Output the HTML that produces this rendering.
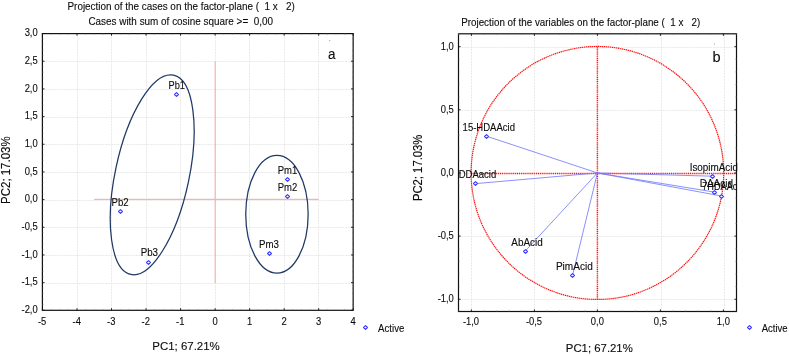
<!DOCTYPE html>
<html><head><meta charset="utf-8"><title>PCA projection</title>
<style>
html,body{margin:0;padding:0;background:#fff;}
body{width:789px;height:356px;overflow:hidden;}
svg{display:block;will-change:transform;}
svg text{font-family:"Liberation Sans", sans-serif;fill:#0c0c0c;stroke:#0c0c0c;stroke-width:0.12px;white-space:pre;}
</style></head><body>
<svg width="789" height="356" viewBox="0 0 789 356">
<rect width="789" height="356" fill="#fff"/>
<g id="left">
<line x1="77.5" y1="33.6" x2="77.5" y2="310.3" stroke="#e8e8e8" stroke-width="1" stroke-dasharray="2 1"/>
<line x1="111.5" y1="33.6" x2="111.5" y2="310.3" stroke="#e8e8e8" stroke-width="1" stroke-dasharray="2 1"/>
<line x1="146.5" y1="33.6" x2="146.5" y2="310.3" stroke="#e8e8e8" stroke-width="1" stroke-dasharray="2 1"/>
<line x1="180.5" y1="33.6" x2="180.5" y2="310.3" stroke="#e8e8e8" stroke-width="1" stroke-dasharray="2 1"/>
<line x1="215.5" y1="33.6" x2="215.5" y2="310.3" stroke="#e8e8e8" stroke-width="1" stroke-dasharray="2 1"/>
<line x1="249.5" y1="33.6" x2="249.5" y2="310.3" stroke="#e8e8e8" stroke-width="1" stroke-dasharray="2 1"/>
<line x1="284.5" y1="33.6" x2="284.5" y2="310.3" stroke="#e8e8e8" stroke-width="1" stroke-dasharray="2 1"/>
<line x1="318.5" y1="33.6" x2="318.5" y2="310.3" stroke="#e8e8e8" stroke-width="1" stroke-dasharray="2 1"/>
<line x1="42.4" y1="283.5" x2="353.15" y2="283.5" stroke="#e8e8e8" stroke-width="1" stroke-dasharray="2 1"/>
<line x1="42.4" y1="255.5" x2="353.15" y2="255.5" stroke="#e8e8e8" stroke-width="1" stroke-dasharray="2 1"/>
<line x1="42.4" y1="227.5" x2="353.15" y2="227.5" stroke="#e8e8e8" stroke-width="1" stroke-dasharray="2 1"/>
<line x1="42.4" y1="200.5" x2="353.15" y2="200.5" stroke="#e8e8e8" stroke-width="1" stroke-dasharray="2 1"/>
<line x1="42.4" y1="172.5" x2="353.15" y2="172.5" stroke="#e8e8e8" stroke-width="1" stroke-dasharray="2 1"/>
<line x1="42.4" y1="144.5" x2="353.15" y2="144.5" stroke="#e8e8e8" stroke-width="1" stroke-dasharray="2 1"/>
<line x1="42.4" y1="117.5" x2="353.15" y2="117.5" stroke="#e8e8e8" stroke-width="1" stroke-dasharray="2 1"/>
<line x1="42.4" y1="89.5" x2="353.15" y2="89.5" stroke="#e8e8e8" stroke-width="1" stroke-dasharray="2 1"/>
<line x1="42.4" y1="61.5" x2="353.15" y2="61.5" stroke="#e8e8e8" stroke-width="1" stroke-dasharray="2 1"/>
<line x1="215.2" y1="61.22" x2="215.2" y2="283.12" stroke="#f5b3b3" stroke-width="1.2"/>
<line x1="94.24" y1="199.4" x2="318.69" y2="199.4" stroke="#f5b3b3" stroke-width="1.15"/>
<ellipse cx="152.2" cy="174.8" rx="36.9" ry="101.9" transform="rotate(12.1 152.2 174.8)" fill="none" stroke="#1f3864" stroke-width="1.25"/>
<ellipse cx="276.95" cy="214.25" rx="31.2" ry="58.9" fill="none" stroke="#1f3864" stroke-width="1.25"/>
<rect x="42.4" y="33.6" width="310.75" height="276.70" fill="none" stroke="#111" stroke-width="1.2"/>
<line x1="42.45" y1="310.3" x2="42.45" y2="308.2" stroke="#111" stroke-width="0.9"/>
<line x1="42.45" y1="33.6" x2="42.45" y2="35.7" stroke="#111" stroke-width="0.9"/>
<line x1="51.08" y1="310.3" x2="51.08" y2="309.2" stroke="#777" stroke-width="0.6"/>
<line x1="51.08" y1="33.6" x2="51.08" y2="34.7" stroke="#777" stroke-width="0.6"/>
<line x1="59.72" y1="310.3" x2="59.72" y2="309.2" stroke="#777" stroke-width="0.6"/>
<line x1="59.72" y1="33.6" x2="59.72" y2="34.7" stroke="#777" stroke-width="0.6"/>
<line x1="68.35" y1="310.3" x2="68.35" y2="309.2" stroke="#777" stroke-width="0.6"/>
<line x1="68.35" y1="33.6" x2="68.35" y2="34.7" stroke="#777" stroke-width="0.6"/>
<line x1="76.98" y1="310.3" x2="76.98" y2="308.2" stroke="#111" stroke-width="0.9"/>
<line x1="76.98" y1="33.6" x2="76.98" y2="35.7" stroke="#111" stroke-width="0.9"/>
<line x1="85.61" y1="310.3" x2="85.61" y2="309.2" stroke="#777" stroke-width="0.6"/>
<line x1="85.61" y1="33.6" x2="85.61" y2="34.7" stroke="#777" stroke-width="0.6"/>
<line x1="94.24" y1="310.3" x2="94.24" y2="309.2" stroke="#777" stroke-width="0.6"/>
<line x1="94.24" y1="33.6" x2="94.24" y2="34.7" stroke="#777" stroke-width="0.6"/>
<line x1="102.88" y1="310.3" x2="102.88" y2="309.2" stroke="#777" stroke-width="0.6"/>
<line x1="102.88" y1="33.6" x2="102.88" y2="34.7" stroke="#777" stroke-width="0.6"/>
<line x1="111.51" y1="310.3" x2="111.51" y2="308.2" stroke="#111" stroke-width="0.9"/>
<line x1="111.51" y1="33.6" x2="111.51" y2="35.7" stroke="#111" stroke-width="0.9"/>
<line x1="120.14" y1="310.3" x2="120.14" y2="309.2" stroke="#777" stroke-width="0.6"/>
<line x1="120.14" y1="33.6" x2="120.14" y2="34.7" stroke="#777" stroke-width="0.6"/>
<line x1="128.77" y1="310.3" x2="128.77" y2="309.2" stroke="#777" stroke-width="0.6"/>
<line x1="128.77" y1="33.6" x2="128.77" y2="34.7" stroke="#777" stroke-width="0.6"/>
<line x1="137.41" y1="310.3" x2="137.41" y2="309.2" stroke="#777" stroke-width="0.6"/>
<line x1="137.41" y1="33.6" x2="137.41" y2="34.7" stroke="#777" stroke-width="0.6"/>
<line x1="146.04" y1="310.3" x2="146.04" y2="308.2" stroke="#111" stroke-width="0.9"/>
<line x1="146.04" y1="33.6" x2="146.04" y2="35.7" stroke="#111" stroke-width="0.9"/>
<line x1="154.67" y1="310.3" x2="154.67" y2="309.2" stroke="#777" stroke-width="0.6"/>
<line x1="154.67" y1="33.6" x2="154.67" y2="34.7" stroke="#777" stroke-width="0.6"/>
<line x1="163.31" y1="310.3" x2="163.31" y2="309.2" stroke="#777" stroke-width="0.6"/>
<line x1="163.31" y1="33.6" x2="163.31" y2="34.7" stroke="#777" stroke-width="0.6"/>
<line x1="171.94" y1="310.3" x2="171.94" y2="309.2" stroke="#777" stroke-width="0.6"/>
<line x1="171.94" y1="33.6" x2="171.94" y2="34.7" stroke="#777" stroke-width="0.6"/>
<line x1="180.57" y1="310.3" x2="180.57" y2="308.2" stroke="#111" stroke-width="0.9"/>
<line x1="180.57" y1="33.6" x2="180.57" y2="35.7" stroke="#111" stroke-width="0.9"/>
<line x1="189.20" y1="310.3" x2="189.20" y2="309.2" stroke="#777" stroke-width="0.6"/>
<line x1="189.20" y1="33.6" x2="189.20" y2="34.7" stroke="#777" stroke-width="0.6"/>
<line x1="197.83" y1="310.3" x2="197.83" y2="309.2" stroke="#777" stroke-width="0.6"/>
<line x1="197.83" y1="33.6" x2="197.83" y2="34.7" stroke="#777" stroke-width="0.6"/>
<line x1="206.47" y1="310.3" x2="206.47" y2="309.2" stroke="#777" stroke-width="0.6"/>
<line x1="206.47" y1="33.6" x2="206.47" y2="34.7" stroke="#777" stroke-width="0.6"/>
<line x1="215.10" y1="310.3" x2="215.10" y2="308.2" stroke="#111" stroke-width="0.9"/>
<line x1="215.10" y1="33.6" x2="215.10" y2="35.7" stroke="#111" stroke-width="0.9"/>
<line x1="223.73" y1="310.3" x2="223.73" y2="309.2" stroke="#777" stroke-width="0.6"/>
<line x1="223.73" y1="33.6" x2="223.73" y2="34.7" stroke="#777" stroke-width="0.6"/>
<line x1="232.37" y1="310.3" x2="232.37" y2="309.2" stroke="#777" stroke-width="0.6"/>
<line x1="232.37" y1="33.6" x2="232.37" y2="34.7" stroke="#777" stroke-width="0.6"/>
<line x1="241.00" y1="310.3" x2="241.00" y2="309.2" stroke="#777" stroke-width="0.6"/>
<line x1="241.00" y1="33.6" x2="241.00" y2="34.7" stroke="#777" stroke-width="0.6"/>
<line x1="249.63" y1="310.3" x2="249.63" y2="308.2" stroke="#111" stroke-width="0.9"/>
<line x1="249.63" y1="33.6" x2="249.63" y2="35.7" stroke="#111" stroke-width="0.9"/>
<line x1="258.26" y1="310.3" x2="258.26" y2="309.2" stroke="#777" stroke-width="0.6"/>
<line x1="258.26" y1="33.6" x2="258.26" y2="34.7" stroke="#777" stroke-width="0.6"/>
<line x1="266.89" y1="310.3" x2="266.89" y2="309.2" stroke="#777" stroke-width="0.6"/>
<line x1="266.89" y1="33.6" x2="266.89" y2="34.7" stroke="#777" stroke-width="0.6"/>
<line x1="275.53" y1="310.3" x2="275.53" y2="309.2" stroke="#777" stroke-width="0.6"/>
<line x1="275.53" y1="33.6" x2="275.53" y2="34.7" stroke="#777" stroke-width="0.6"/>
<line x1="284.16" y1="310.3" x2="284.16" y2="308.2" stroke="#111" stroke-width="0.9"/>
<line x1="284.16" y1="33.6" x2="284.16" y2="35.7" stroke="#111" stroke-width="0.9"/>
<line x1="292.79" y1="310.3" x2="292.79" y2="309.2" stroke="#777" stroke-width="0.6"/>
<line x1="292.79" y1="33.6" x2="292.79" y2="34.7" stroke="#777" stroke-width="0.6"/>
<line x1="301.43" y1="310.3" x2="301.43" y2="309.2" stroke="#777" stroke-width="0.6"/>
<line x1="301.43" y1="33.6" x2="301.43" y2="34.7" stroke="#777" stroke-width="0.6"/>
<line x1="310.06" y1="310.3" x2="310.06" y2="309.2" stroke="#777" stroke-width="0.6"/>
<line x1="310.06" y1="33.6" x2="310.06" y2="34.7" stroke="#777" stroke-width="0.6"/>
<line x1="318.69" y1="310.3" x2="318.69" y2="308.2" stroke="#111" stroke-width="0.9"/>
<line x1="318.69" y1="33.6" x2="318.69" y2="35.7" stroke="#111" stroke-width="0.9"/>
<line x1="327.32" y1="310.3" x2="327.32" y2="309.2" stroke="#777" stroke-width="0.6"/>
<line x1="327.32" y1="33.6" x2="327.32" y2="34.7" stroke="#777" stroke-width="0.6"/>
<line x1="335.95" y1="310.3" x2="335.95" y2="309.2" stroke="#777" stroke-width="0.6"/>
<line x1="335.95" y1="33.6" x2="335.95" y2="34.7" stroke="#777" stroke-width="0.6"/>
<line x1="344.59" y1="310.3" x2="344.59" y2="309.2" stroke="#777" stroke-width="0.6"/>
<line x1="344.59" y1="33.6" x2="344.59" y2="34.7" stroke="#777" stroke-width="0.6"/>
<line x1="353.22" y1="310.3" x2="353.22" y2="308.2" stroke="#111" stroke-width="0.9"/>
<line x1="353.22" y1="33.6" x2="353.22" y2="35.7" stroke="#111" stroke-width="0.9"/>
<line x1="42.4" y1="310.30" x2="44.5" y2="310.30" stroke="#111" stroke-width="0.9"/>
<line x1="353.15" y1="310.30" x2="351.04999999999995" y2="310.30" stroke="#111" stroke-width="0.9"/>
<line x1="42.4" y1="304.76" x2="43.5" y2="304.76" stroke="#777" stroke-width="0.6"/>
<line x1="353.15" y1="304.76" x2="352.04999999999995" y2="304.76" stroke="#777" stroke-width="0.6"/>
<line x1="42.4" y1="299.23" x2="43.5" y2="299.23" stroke="#777" stroke-width="0.6"/>
<line x1="353.15" y1="299.23" x2="352.04999999999995" y2="299.23" stroke="#777" stroke-width="0.6"/>
<line x1="42.4" y1="293.69" x2="43.5" y2="293.69" stroke="#777" stroke-width="0.6"/>
<line x1="353.15" y1="293.69" x2="352.04999999999995" y2="293.69" stroke="#777" stroke-width="0.6"/>
<line x1="42.4" y1="288.16" x2="43.5" y2="288.16" stroke="#777" stroke-width="0.6"/>
<line x1="353.15" y1="288.16" x2="352.04999999999995" y2="288.16" stroke="#777" stroke-width="0.6"/>
<line x1="42.4" y1="282.62" x2="44.5" y2="282.62" stroke="#111" stroke-width="0.9"/>
<line x1="353.15" y1="282.62" x2="351.04999999999995" y2="282.62" stroke="#111" stroke-width="0.9"/>
<line x1="42.4" y1="277.09" x2="43.5" y2="277.09" stroke="#777" stroke-width="0.6"/>
<line x1="353.15" y1="277.09" x2="352.04999999999995" y2="277.09" stroke="#777" stroke-width="0.6"/>
<line x1="42.4" y1="271.56" x2="43.5" y2="271.56" stroke="#777" stroke-width="0.6"/>
<line x1="353.15" y1="271.56" x2="352.04999999999995" y2="271.56" stroke="#777" stroke-width="0.6"/>
<line x1="42.4" y1="266.02" x2="43.5" y2="266.02" stroke="#777" stroke-width="0.6"/>
<line x1="353.15" y1="266.02" x2="352.04999999999995" y2="266.02" stroke="#777" stroke-width="0.6"/>
<line x1="42.4" y1="260.49" x2="43.5" y2="260.49" stroke="#777" stroke-width="0.6"/>
<line x1="353.15" y1="260.49" x2="352.04999999999995" y2="260.49" stroke="#777" stroke-width="0.6"/>
<line x1="42.4" y1="254.95" x2="44.5" y2="254.95" stroke="#111" stroke-width="0.9"/>
<line x1="353.15" y1="254.95" x2="351.04999999999995" y2="254.95" stroke="#111" stroke-width="0.9"/>
<line x1="42.4" y1="249.41" x2="43.5" y2="249.41" stroke="#777" stroke-width="0.6"/>
<line x1="353.15" y1="249.41" x2="352.04999999999995" y2="249.41" stroke="#777" stroke-width="0.6"/>
<line x1="42.4" y1="243.88" x2="43.5" y2="243.88" stroke="#777" stroke-width="0.6"/>
<line x1="353.15" y1="243.88" x2="352.04999999999995" y2="243.88" stroke="#777" stroke-width="0.6"/>
<line x1="42.4" y1="238.34" x2="43.5" y2="238.34" stroke="#777" stroke-width="0.6"/>
<line x1="353.15" y1="238.34" x2="352.04999999999995" y2="238.34" stroke="#777" stroke-width="0.6"/>
<line x1="42.4" y1="232.81" x2="43.5" y2="232.81" stroke="#777" stroke-width="0.6"/>
<line x1="353.15" y1="232.81" x2="352.04999999999995" y2="232.81" stroke="#777" stroke-width="0.6"/>
<line x1="42.4" y1="227.28" x2="44.5" y2="227.28" stroke="#111" stroke-width="0.9"/>
<line x1="353.15" y1="227.28" x2="351.04999999999995" y2="227.28" stroke="#111" stroke-width="0.9"/>
<line x1="42.4" y1="221.74" x2="43.5" y2="221.74" stroke="#777" stroke-width="0.6"/>
<line x1="353.15" y1="221.74" x2="352.04999999999995" y2="221.74" stroke="#777" stroke-width="0.6"/>
<line x1="42.4" y1="216.20" x2="43.5" y2="216.20" stroke="#777" stroke-width="0.6"/>
<line x1="353.15" y1="216.20" x2="352.04999999999995" y2="216.20" stroke="#777" stroke-width="0.6"/>
<line x1="42.4" y1="210.67" x2="43.5" y2="210.67" stroke="#777" stroke-width="0.6"/>
<line x1="353.15" y1="210.67" x2="352.04999999999995" y2="210.67" stroke="#777" stroke-width="0.6"/>
<line x1="42.4" y1="205.13" x2="43.5" y2="205.13" stroke="#777" stroke-width="0.6"/>
<line x1="353.15" y1="205.13" x2="352.04999999999995" y2="205.13" stroke="#777" stroke-width="0.6"/>
<line x1="42.4" y1="199.60" x2="44.5" y2="199.60" stroke="#111" stroke-width="0.9"/>
<line x1="353.15" y1="199.60" x2="351.04999999999995" y2="199.60" stroke="#111" stroke-width="0.9"/>
<line x1="42.4" y1="194.06" x2="43.5" y2="194.06" stroke="#777" stroke-width="0.6"/>
<line x1="353.15" y1="194.06" x2="352.04999999999995" y2="194.06" stroke="#777" stroke-width="0.6"/>
<line x1="42.4" y1="188.53" x2="43.5" y2="188.53" stroke="#777" stroke-width="0.6"/>
<line x1="353.15" y1="188.53" x2="352.04999999999995" y2="188.53" stroke="#777" stroke-width="0.6"/>
<line x1="42.4" y1="183.00" x2="43.5" y2="183.00" stroke="#777" stroke-width="0.6"/>
<line x1="353.15" y1="183.00" x2="352.04999999999995" y2="183.00" stroke="#777" stroke-width="0.6"/>
<line x1="42.4" y1="177.46" x2="43.5" y2="177.46" stroke="#777" stroke-width="0.6"/>
<line x1="353.15" y1="177.46" x2="352.04999999999995" y2="177.46" stroke="#777" stroke-width="0.6"/>
<line x1="42.4" y1="171.92" x2="44.5" y2="171.92" stroke="#111" stroke-width="0.9"/>
<line x1="353.15" y1="171.92" x2="351.04999999999995" y2="171.92" stroke="#111" stroke-width="0.9"/>
<line x1="42.4" y1="166.39" x2="43.5" y2="166.39" stroke="#777" stroke-width="0.6"/>
<line x1="353.15" y1="166.39" x2="352.04999999999995" y2="166.39" stroke="#777" stroke-width="0.6"/>
<line x1="42.4" y1="160.85" x2="43.5" y2="160.85" stroke="#777" stroke-width="0.6"/>
<line x1="353.15" y1="160.85" x2="352.04999999999995" y2="160.85" stroke="#777" stroke-width="0.6"/>
<line x1="42.4" y1="155.32" x2="43.5" y2="155.32" stroke="#777" stroke-width="0.6"/>
<line x1="353.15" y1="155.32" x2="352.04999999999995" y2="155.32" stroke="#777" stroke-width="0.6"/>
<line x1="42.4" y1="149.78" x2="43.5" y2="149.78" stroke="#777" stroke-width="0.6"/>
<line x1="353.15" y1="149.78" x2="352.04999999999995" y2="149.78" stroke="#777" stroke-width="0.6"/>
<line x1="42.4" y1="144.25" x2="44.5" y2="144.25" stroke="#111" stroke-width="0.9"/>
<line x1="353.15" y1="144.25" x2="351.04999999999995" y2="144.25" stroke="#111" stroke-width="0.9"/>
<line x1="42.4" y1="138.71" x2="43.5" y2="138.71" stroke="#777" stroke-width="0.6"/>
<line x1="353.15" y1="138.71" x2="352.04999999999995" y2="138.71" stroke="#777" stroke-width="0.6"/>
<line x1="42.4" y1="133.18" x2="43.5" y2="133.18" stroke="#777" stroke-width="0.6"/>
<line x1="353.15" y1="133.18" x2="352.04999999999995" y2="133.18" stroke="#777" stroke-width="0.6"/>
<line x1="42.4" y1="127.64" x2="43.5" y2="127.64" stroke="#777" stroke-width="0.6"/>
<line x1="353.15" y1="127.64" x2="352.04999999999995" y2="127.64" stroke="#777" stroke-width="0.6"/>
<line x1="42.4" y1="122.11" x2="43.5" y2="122.11" stroke="#777" stroke-width="0.6"/>
<line x1="353.15" y1="122.11" x2="352.04999999999995" y2="122.11" stroke="#777" stroke-width="0.6"/>
<line x1="42.4" y1="116.57" x2="44.5" y2="116.57" stroke="#111" stroke-width="0.9"/>
<line x1="353.15" y1="116.57" x2="351.04999999999995" y2="116.57" stroke="#111" stroke-width="0.9"/>
<line x1="42.4" y1="111.04" x2="43.5" y2="111.04" stroke="#777" stroke-width="0.6"/>
<line x1="353.15" y1="111.04" x2="352.04999999999995" y2="111.04" stroke="#777" stroke-width="0.6"/>
<line x1="42.4" y1="105.50" x2="43.5" y2="105.50" stroke="#777" stroke-width="0.6"/>
<line x1="353.15" y1="105.50" x2="352.04999999999995" y2="105.50" stroke="#777" stroke-width="0.6"/>
<line x1="42.4" y1="99.97" x2="43.5" y2="99.97" stroke="#777" stroke-width="0.6"/>
<line x1="353.15" y1="99.97" x2="352.04999999999995" y2="99.97" stroke="#777" stroke-width="0.6"/>
<line x1="42.4" y1="94.44" x2="43.5" y2="94.44" stroke="#777" stroke-width="0.6"/>
<line x1="353.15" y1="94.44" x2="352.04999999999995" y2="94.44" stroke="#777" stroke-width="0.6"/>
<line x1="42.4" y1="88.90" x2="44.5" y2="88.90" stroke="#111" stroke-width="0.9"/>
<line x1="353.15" y1="88.90" x2="351.04999999999995" y2="88.90" stroke="#111" stroke-width="0.9"/>
<line x1="42.4" y1="83.36" x2="43.5" y2="83.36" stroke="#777" stroke-width="0.6"/>
<line x1="353.15" y1="83.36" x2="352.04999999999995" y2="83.36" stroke="#777" stroke-width="0.6"/>
<line x1="42.4" y1="77.83" x2="43.5" y2="77.83" stroke="#777" stroke-width="0.6"/>
<line x1="353.15" y1="77.83" x2="352.04999999999995" y2="77.83" stroke="#777" stroke-width="0.6"/>
<line x1="42.4" y1="72.30" x2="43.5" y2="72.30" stroke="#777" stroke-width="0.6"/>
<line x1="353.15" y1="72.30" x2="352.04999999999995" y2="72.30" stroke="#777" stroke-width="0.6"/>
<line x1="42.4" y1="66.76" x2="43.5" y2="66.76" stroke="#777" stroke-width="0.6"/>
<line x1="353.15" y1="66.76" x2="352.04999999999995" y2="66.76" stroke="#777" stroke-width="0.6"/>
<line x1="42.4" y1="61.22" x2="44.5" y2="61.22" stroke="#111" stroke-width="0.9"/>
<line x1="353.15" y1="61.22" x2="351.04999999999995" y2="61.22" stroke="#111" stroke-width="0.9"/>
<line x1="42.4" y1="55.69" x2="43.5" y2="55.69" stroke="#777" stroke-width="0.6"/>
<line x1="353.15" y1="55.69" x2="352.04999999999995" y2="55.69" stroke="#777" stroke-width="0.6"/>
<line x1="42.4" y1="50.15" x2="43.5" y2="50.15" stroke="#777" stroke-width="0.6"/>
<line x1="353.15" y1="50.15" x2="352.04999999999995" y2="50.15" stroke="#777" stroke-width="0.6"/>
<line x1="42.4" y1="44.62" x2="43.5" y2="44.62" stroke="#777" stroke-width="0.6"/>
<line x1="353.15" y1="44.62" x2="352.04999999999995" y2="44.62" stroke="#777" stroke-width="0.6"/>
<line x1="42.4" y1="39.09" x2="43.5" y2="39.09" stroke="#777" stroke-width="0.6"/>
<line x1="353.15" y1="39.09" x2="352.04999999999995" y2="39.09" stroke="#777" stroke-width="0.6"/>
<line x1="42.4" y1="33.55" x2="44.5" y2="33.55" stroke="#111" stroke-width="0.9"/>
<line x1="353.15" y1="33.55" x2="351.04999999999995" y2="33.55" stroke="#111" stroke-width="0.9"/>
<text transform="translate(42.15,324.50) scale(0.87,1)" font-size="10.8" text-anchor="middle" >-5</text>
<text transform="translate(76.68,324.50) scale(0.87,1)" font-size="10.8" text-anchor="middle" >-4</text>
<text transform="translate(111.21,324.50) scale(0.87,1)" font-size="10.8" text-anchor="middle" >-3</text>
<text transform="translate(145.74,324.50) scale(0.87,1)" font-size="10.8" text-anchor="middle" >-2</text>
<text transform="translate(180.27,324.50) scale(0.87,1)" font-size="10.8" text-anchor="middle" >-1</text>
<text transform="translate(215.10,324.50) scale(0.87,1)" font-size="10.8" text-anchor="middle" >0</text>
<text transform="translate(249.63,324.50) scale(0.87,1)" font-size="10.8" text-anchor="middle" >1</text>
<text transform="translate(284.16,324.50) scale(0.87,1)" font-size="10.8" text-anchor="middle" >2</text>
<text transform="translate(318.69,324.50) scale(0.87,1)" font-size="10.8" text-anchor="middle" >3</text>
<text transform="translate(353.22,324.50) scale(0.87,1)" font-size="10.8" text-anchor="middle" >4</text>
<text transform="translate(37.70,313.10) scale(0.87,1)" font-size="10.8" text-anchor="end" >-2,0</text>
<text transform="translate(37.70,285.43) scale(0.87,1)" font-size="10.8" text-anchor="end" >-1,5</text>
<text transform="translate(37.70,257.75) scale(0.87,1)" font-size="10.8" text-anchor="end" >-1,0</text>
<text transform="translate(37.70,230.08) scale(0.87,1)" font-size="10.8" text-anchor="end" >-0,5</text>
<text transform="translate(37.70,202.40) scale(0.87,1)" font-size="10.8" text-anchor="end" >0,0</text>
<text transform="translate(37.70,174.72) scale(0.87,1)" font-size="10.8" text-anchor="end" >0,5</text>
<text transform="translate(37.70,147.05) scale(0.87,1)" font-size="10.8" text-anchor="end" >1,0</text>
<text transform="translate(37.70,119.37) scale(0.87,1)" font-size="10.8" text-anchor="end" >1,5</text>
<text transform="translate(37.70,91.70) scale(0.87,1)" font-size="10.8" text-anchor="end" >2,0</text>
<text transform="translate(37.70,64.02) scale(0.87,1)" font-size="10.8" text-anchor="end" >2,5</text>
<text transform="translate(37.70,36.35) scale(0.87,1)" font-size="10.8" text-anchor="end" >3,0</text>
<path d="M174.55,94.50L176.50,92.55L178.45,94.50L176.50,96.45Z" fill="#fff" stroke="#3838ff" stroke-width="1.1" stroke-linejoin="round"/>
<path d="M118.55,211.50L120.50,209.55L122.45,211.50L120.50,213.45Z" fill="#fff" stroke="#3838ff" stroke-width="1.1" stroke-linejoin="round"/>
<path d="M146.55,262.50L148.50,260.55L150.45,262.50L148.50,264.45Z" fill="#fff" stroke="#3838ff" stroke-width="1.1" stroke-linejoin="round"/>
<path d="M285.55,179.50L287.50,177.55L289.45,179.50L287.50,181.45Z" fill="#fff" stroke="#3838ff" stroke-width="1.1" stroke-linejoin="round"/>
<path d="M285.55,196.50L287.50,194.55L289.45,196.50L287.50,198.45Z" fill="#fff" stroke="#3838ff" stroke-width="1.1" stroke-linejoin="round"/>
<path d="M267.55,253.50L269.50,251.55L271.45,253.50L269.50,255.45Z" fill="#fff" stroke="#3838ff" stroke-width="1.1" stroke-linejoin="round"/>
<text x="168.60" y="88.70" font-size="11.2" textLength="16.40" lengthAdjust="spacingAndGlyphs" >Pb1</text>
<text x="111.60" y="205.70" font-size="11.2" textLength="17.10" lengthAdjust="spacingAndGlyphs" >Pb2</text>
<text x="140.70" y="255.80" font-size="11.2" textLength="17.30" lengthAdjust="spacingAndGlyphs" >Pb3</text>
<text x="277.70" y="173.70" font-size="11.2" textLength="19.50" lengthAdjust="spacingAndGlyphs" >Pm1</text>
<text x="277.70" y="190.60" font-size="11.2" textLength="19.50" lengthAdjust="spacingAndGlyphs" >Pm2</text>
<text x="259.00" y="247.80" font-size="11.2" textLength="19.90" lengthAdjust="spacingAndGlyphs" >Pm3</text>
<text x="67.50" y="9.50" font-size="11.2" textLength="227.20" lengthAdjust="spacingAndGlyphs" >Projection of the cases on the factor-plane (  1 x   2)</text>
<text x="88.40" y="24.70" font-size="11.2" textLength="184.60" lengthAdjust="spacingAndGlyphs" >Cases with sum of cosine square &gt;=  0,00</text>
<text x="152.30" y="350.40" font-size="11.6" textLength="67.50" lengthAdjust="spacingAndGlyphs" >PC1; 67.21%</text>
<text transform="translate(10.3,203.9) rotate(-90)" font-size="12.2" textLength="67.5" lengthAdjust="spacingAndGlyphs">PC2; 17.03%</text>
<text transform="translate(331.80,58.90) scale(0.88,1)" font-size="15.3" text-anchor="middle" >a</text>
<circle cx="329.8" cy="40.6" r="0.55" fill="#8a8a8a"/>
<path d="M363.55,327.50L365.50,325.55L367.45,327.50L365.50,329.45Z" fill="#fff" stroke="#3838ff" stroke-width="1.1" stroke-linejoin="round"/>
<text x="378.10" y="331.70" font-size="11.1" textLength="26.20" lengthAdjust="spacingAndGlyphs" >Active</text>
</g>
<g id="right">
<line x1="471.5" y1="33.8" x2="471.5" y2="311.5" stroke="#e8e8e8" stroke-width="1" stroke-dasharray="2 1"/>
<line x1="458.5" y1="299.5" x2="736.5" y2="299.5" stroke="#e8e8e8" stroke-width="1" stroke-dasharray="2 1"/>
<line x1="534.5" y1="33.8" x2="534.5" y2="311.5" stroke="#e8e8e8" stroke-width="1" stroke-dasharray="2 1"/>
<line x1="458.5" y1="236.5" x2="736.5" y2="236.5" stroke="#e8e8e8" stroke-width="1" stroke-dasharray="2 1"/>
<line x1="597.5" y1="33.8" x2="597.5" y2="311.5" stroke="#e8e8e8" stroke-width="1" stroke-dasharray="2 1"/>
<line x1="458.5" y1="173.5" x2="736.5" y2="173.5" stroke="#e8e8e8" stroke-width="1" stroke-dasharray="2 1"/>
<line x1="661.5" y1="33.8" x2="661.5" y2="311.5" stroke="#e8e8e8" stroke-width="1" stroke-dasharray="2 1"/>
<line x1="458.5" y1="110.5" x2="736.5" y2="110.5" stroke="#e8e8e8" stroke-width="1" stroke-dasharray="2 1"/>
<line x1="724.5" y1="33.8" x2="724.5" y2="311.5" stroke="#e8e8e8" stroke-width="1" stroke-dasharray="2 1"/>
<line x1="458.5" y1="47.5" x2="736.5" y2="47.5" stroke="#e8e8e8" stroke-width="1" stroke-dasharray="2 1"/>
<ellipse cx="597.40" cy="172.95" rx="126.3" ry="126.5" fill="none" stroke="#ff1010" stroke-width="1.2" stroke-dasharray="1.4 0.6"/>
<line x1="597.40" y1="46.65" x2="597.40" y2="299.25" stroke="#ff1010" stroke-width="1.45" stroke-dasharray="1.1 0.8"/>
<line x1="471.40" y1="173.45" x2="737.3" y2="173.45" stroke="#ff1010" stroke-width="1.6" stroke-dasharray="1.1 0.8"/>
<line x1="597.40" y1="172.95" x2="486.9" y2="136.3" stroke="#747cff" stroke-width="0.85"/>
<line x1="597.40" y1="172.95" x2="475.8" y2="183.6" stroke="#747cff" stroke-width="0.85"/>
<line x1="597.40" y1="172.95" x2="525.0" y2="251.3" stroke="#747cff" stroke-width="0.85"/>
<line x1="597.40" y1="172.95" x2="572.5" y2="275.6" stroke="#747cff" stroke-width="0.85"/>
<line x1="597.40" y1="172.95" x2="712.3" y2="176.2" stroke="#747cff" stroke-width="0.85"/>
<line x1="597.40" y1="172.95" x2="714.5" y2="192.1" stroke="#747cff" stroke-width="0.85"/>
<line x1="597.40" y1="172.95" x2="721.4" y2="196.0" stroke="#747cff" stroke-width="0.85"/>
<rect x="458.5" y="33.8" width="278.00" height="277.70" fill="none" stroke="#111" stroke-width="1.2"/>
<line x1="458.80" y1="311.5" x2="458.80" y2="310.4" stroke="#777" stroke-width="0.6"/>
<line x1="458.80" y1="33.8" x2="458.80" y2="34.9" stroke="#777" stroke-width="0.6"/>
<line x1="471.40" y1="311.5" x2="471.40" y2="309.4" stroke="#111" stroke-width="0.9"/>
<line x1="471.40" y1="33.8" x2="471.40" y2="35.9" stroke="#111" stroke-width="0.9"/>
<line x1="458.5" y1="299.25" x2="460.6" y2="299.25" stroke="#111" stroke-width="0.9"/>
<line x1="736.5" y1="299.25" x2="734.4" y2="299.25" stroke="#111" stroke-width="0.9"/>
<line x1="484.00" y1="311.5" x2="484.00" y2="310.4" stroke="#777" stroke-width="0.6"/>
<line x1="484.00" y1="33.8" x2="484.00" y2="34.9" stroke="#777" stroke-width="0.6"/>
<line x1="458.5" y1="286.62" x2="459.6" y2="286.62" stroke="#777" stroke-width="0.6"/>
<line x1="736.5" y1="286.62" x2="735.4" y2="286.62" stroke="#777" stroke-width="0.6"/>
<line x1="496.60" y1="311.5" x2="496.60" y2="310.4" stroke="#777" stroke-width="0.6"/>
<line x1="496.60" y1="33.8" x2="496.60" y2="34.9" stroke="#777" stroke-width="0.6"/>
<line x1="458.5" y1="273.99" x2="459.6" y2="273.99" stroke="#777" stroke-width="0.6"/>
<line x1="736.5" y1="273.99" x2="735.4" y2="273.99" stroke="#777" stroke-width="0.6"/>
<line x1="509.20" y1="311.5" x2="509.20" y2="310.4" stroke="#777" stroke-width="0.6"/>
<line x1="509.20" y1="33.8" x2="509.20" y2="34.9" stroke="#777" stroke-width="0.6"/>
<line x1="458.5" y1="261.36" x2="459.6" y2="261.36" stroke="#777" stroke-width="0.6"/>
<line x1="736.5" y1="261.36" x2="735.4" y2="261.36" stroke="#777" stroke-width="0.6"/>
<line x1="521.80" y1="311.5" x2="521.80" y2="310.4" stroke="#777" stroke-width="0.6"/>
<line x1="521.80" y1="33.8" x2="521.80" y2="34.9" stroke="#777" stroke-width="0.6"/>
<line x1="458.5" y1="248.73" x2="459.6" y2="248.73" stroke="#777" stroke-width="0.6"/>
<line x1="736.5" y1="248.73" x2="735.4" y2="248.73" stroke="#777" stroke-width="0.6"/>
<line x1="534.40" y1="311.5" x2="534.40" y2="309.4" stroke="#111" stroke-width="0.9"/>
<line x1="534.40" y1="33.8" x2="534.40" y2="35.9" stroke="#111" stroke-width="0.9"/>
<line x1="458.5" y1="236.10" x2="460.6" y2="236.10" stroke="#111" stroke-width="0.9"/>
<line x1="736.5" y1="236.10" x2="734.4" y2="236.10" stroke="#111" stroke-width="0.9"/>
<line x1="547.00" y1="311.5" x2="547.00" y2="310.4" stroke="#777" stroke-width="0.6"/>
<line x1="547.00" y1="33.8" x2="547.00" y2="34.9" stroke="#777" stroke-width="0.6"/>
<line x1="458.5" y1="223.47" x2="459.6" y2="223.47" stroke="#777" stroke-width="0.6"/>
<line x1="736.5" y1="223.47" x2="735.4" y2="223.47" stroke="#777" stroke-width="0.6"/>
<line x1="559.60" y1="311.5" x2="559.60" y2="310.4" stroke="#777" stroke-width="0.6"/>
<line x1="559.60" y1="33.8" x2="559.60" y2="34.9" stroke="#777" stroke-width="0.6"/>
<line x1="458.5" y1="210.84" x2="459.6" y2="210.84" stroke="#777" stroke-width="0.6"/>
<line x1="736.5" y1="210.84" x2="735.4" y2="210.84" stroke="#777" stroke-width="0.6"/>
<line x1="572.20" y1="311.5" x2="572.20" y2="310.4" stroke="#777" stroke-width="0.6"/>
<line x1="572.20" y1="33.8" x2="572.20" y2="34.9" stroke="#777" stroke-width="0.6"/>
<line x1="458.5" y1="198.21" x2="459.6" y2="198.21" stroke="#777" stroke-width="0.6"/>
<line x1="736.5" y1="198.21" x2="735.4" y2="198.21" stroke="#777" stroke-width="0.6"/>
<line x1="584.80" y1="311.5" x2="584.80" y2="310.4" stroke="#777" stroke-width="0.6"/>
<line x1="584.80" y1="33.8" x2="584.80" y2="34.9" stroke="#777" stroke-width="0.6"/>
<line x1="458.5" y1="185.58" x2="459.6" y2="185.58" stroke="#777" stroke-width="0.6"/>
<line x1="736.5" y1="185.58" x2="735.4" y2="185.58" stroke="#777" stroke-width="0.6"/>
<line x1="597.40" y1="311.5" x2="597.40" y2="309.4" stroke="#111" stroke-width="0.9"/>
<line x1="597.40" y1="33.8" x2="597.40" y2="35.9" stroke="#111" stroke-width="0.9"/>
<line x1="458.5" y1="172.95" x2="460.6" y2="172.95" stroke="#111" stroke-width="0.9"/>
<line x1="736.5" y1="172.95" x2="734.4" y2="172.95" stroke="#111" stroke-width="0.9"/>
<line x1="610.00" y1="311.5" x2="610.00" y2="310.4" stroke="#777" stroke-width="0.6"/>
<line x1="610.00" y1="33.8" x2="610.00" y2="34.9" stroke="#777" stroke-width="0.6"/>
<line x1="458.5" y1="160.32" x2="459.6" y2="160.32" stroke="#777" stroke-width="0.6"/>
<line x1="736.5" y1="160.32" x2="735.4" y2="160.32" stroke="#777" stroke-width="0.6"/>
<line x1="622.60" y1="311.5" x2="622.60" y2="310.4" stroke="#777" stroke-width="0.6"/>
<line x1="622.60" y1="33.8" x2="622.60" y2="34.9" stroke="#777" stroke-width="0.6"/>
<line x1="458.5" y1="147.69" x2="459.6" y2="147.69" stroke="#777" stroke-width="0.6"/>
<line x1="736.5" y1="147.69" x2="735.4" y2="147.69" stroke="#777" stroke-width="0.6"/>
<line x1="635.20" y1="311.5" x2="635.20" y2="310.4" stroke="#777" stroke-width="0.6"/>
<line x1="635.20" y1="33.8" x2="635.20" y2="34.9" stroke="#777" stroke-width="0.6"/>
<line x1="458.5" y1="135.06" x2="459.6" y2="135.06" stroke="#777" stroke-width="0.6"/>
<line x1="736.5" y1="135.06" x2="735.4" y2="135.06" stroke="#777" stroke-width="0.6"/>
<line x1="647.80" y1="311.5" x2="647.80" y2="310.4" stroke="#777" stroke-width="0.6"/>
<line x1="647.80" y1="33.8" x2="647.80" y2="34.9" stroke="#777" stroke-width="0.6"/>
<line x1="458.5" y1="122.43" x2="459.6" y2="122.43" stroke="#777" stroke-width="0.6"/>
<line x1="736.5" y1="122.43" x2="735.4" y2="122.43" stroke="#777" stroke-width="0.6"/>
<line x1="660.40" y1="311.5" x2="660.40" y2="309.4" stroke="#111" stroke-width="0.9"/>
<line x1="660.40" y1="33.8" x2="660.40" y2="35.9" stroke="#111" stroke-width="0.9"/>
<line x1="458.5" y1="109.80" x2="460.6" y2="109.80" stroke="#111" stroke-width="0.9"/>
<line x1="736.5" y1="109.80" x2="734.4" y2="109.80" stroke="#111" stroke-width="0.9"/>
<line x1="673.00" y1="311.5" x2="673.00" y2="310.4" stroke="#777" stroke-width="0.6"/>
<line x1="673.00" y1="33.8" x2="673.00" y2="34.9" stroke="#777" stroke-width="0.6"/>
<line x1="458.5" y1="97.17" x2="459.6" y2="97.17" stroke="#777" stroke-width="0.6"/>
<line x1="736.5" y1="97.17" x2="735.4" y2="97.17" stroke="#777" stroke-width="0.6"/>
<line x1="685.60" y1="311.5" x2="685.60" y2="310.4" stroke="#777" stroke-width="0.6"/>
<line x1="685.60" y1="33.8" x2="685.60" y2="34.9" stroke="#777" stroke-width="0.6"/>
<line x1="458.5" y1="84.54" x2="459.6" y2="84.54" stroke="#777" stroke-width="0.6"/>
<line x1="736.5" y1="84.54" x2="735.4" y2="84.54" stroke="#777" stroke-width="0.6"/>
<line x1="698.20" y1="311.5" x2="698.20" y2="310.4" stroke="#777" stroke-width="0.6"/>
<line x1="698.20" y1="33.8" x2="698.20" y2="34.9" stroke="#777" stroke-width="0.6"/>
<line x1="458.5" y1="71.91" x2="459.6" y2="71.91" stroke="#777" stroke-width="0.6"/>
<line x1="736.5" y1="71.91" x2="735.4" y2="71.91" stroke="#777" stroke-width="0.6"/>
<line x1="710.80" y1="311.5" x2="710.80" y2="310.4" stroke="#777" stroke-width="0.6"/>
<line x1="710.80" y1="33.8" x2="710.80" y2="34.9" stroke="#777" stroke-width="0.6"/>
<line x1="458.5" y1="59.28" x2="459.6" y2="59.28" stroke="#777" stroke-width="0.6"/>
<line x1="736.5" y1="59.28" x2="735.4" y2="59.28" stroke="#777" stroke-width="0.6"/>
<line x1="723.40" y1="311.5" x2="723.40" y2="309.4" stroke="#111" stroke-width="0.9"/>
<line x1="723.40" y1="33.8" x2="723.40" y2="35.9" stroke="#111" stroke-width="0.9"/>
<line x1="458.5" y1="46.65" x2="460.6" y2="46.65" stroke="#111" stroke-width="0.9"/>
<line x1="736.5" y1="46.65" x2="734.4" y2="46.65" stroke="#111" stroke-width="0.9"/>
<line x1="736.00" y1="311.5" x2="736.00" y2="310.4" stroke="#777" stroke-width="0.6"/>
<line x1="736.00" y1="33.8" x2="736.00" y2="34.9" stroke="#777" stroke-width="0.6"/>
<line x1="458.5" y1="34.02" x2="459.6" y2="34.02" stroke="#777" stroke-width="0.6"/>
<line x1="736.5" y1="34.02" x2="735.4" y2="34.02" stroke="#777" stroke-width="0.6"/>
<text transform="translate(471.00,325.30) scale(0.87,1)" font-size="10.8" text-anchor="middle" >-1,0</text>
<text transform="translate(453.80,302.15) scale(0.87,1)" font-size="10.8" text-anchor="end" >-1,0</text>
<text transform="translate(534.00,325.30) scale(0.87,1)" font-size="10.8" text-anchor="middle" >-0,5</text>
<text transform="translate(453.80,239.00) scale(0.87,1)" font-size="10.8" text-anchor="end" >-0,5</text>
<text transform="translate(597.40,325.30) scale(0.87,1)" font-size="10.8" text-anchor="middle" >0,0</text>
<text transform="translate(453.80,175.85) scale(0.87,1)" font-size="10.8" text-anchor="end" >0,0</text>
<text transform="translate(660.40,325.30) scale(0.87,1)" font-size="10.8" text-anchor="middle" >0,5</text>
<text transform="translate(453.80,112.70) scale(0.87,1)" font-size="10.8" text-anchor="end" >0,5</text>
<text transform="translate(723.40,325.30) scale(0.87,1)" font-size="10.8" text-anchor="middle" >1,0</text>
<text transform="translate(453.80,49.55) scale(0.87,1)" font-size="10.8" text-anchor="end" >1,0</text>
<clipPath id="cr"><rect x="400" y="0" width="337.60" height="356"/></clipPath>
<path d="M484.55,136.50L486.50,134.55L488.45,136.50L486.50,138.45Z" fill="#fff" stroke="#3838ff" stroke-width="1.1" stroke-linejoin="round"/>
<path d="M473.55,183.50L475.50,181.55L477.45,183.50L475.50,185.45Z" fill="#fff" stroke="#3838ff" stroke-width="1.1" stroke-linejoin="round"/>
<path d="M523.55,251.50L525.50,249.55L527.45,251.50L525.50,253.45Z" fill="#fff" stroke="#3838ff" stroke-width="1.1" stroke-linejoin="round"/>
<path d="M570.55,275.50L572.50,273.55L574.45,275.50L572.50,277.45Z" fill="#fff" stroke="#3838ff" stroke-width="1.1" stroke-linejoin="round"/>
<path d="M710.55,176.50L712.50,174.55L714.45,176.50L712.50,178.45Z" fill="#fff" stroke="#3838ff" stroke-width="1.1" stroke-linejoin="round"/>
<path d="M712.55,192.50L714.50,190.55L716.45,192.50L714.50,194.45Z" fill="#fff" stroke="#3838ff" stroke-width="1.1" stroke-linejoin="round"/>
<path d="M719.55,196.50L721.50,194.55L723.45,196.50L721.50,198.45Z" fill="#fff" stroke="#3838ff" stroke-width="1.1" stroke-linejoin="round"/>
<g clip-path="url(#cr)">
<text x="462.60" y="131.30" font-size="11.2" textLength="52.40" lengthAdjust="spacingAndGlyphs" >15-HDAAcid</text>
<text x="458.70" y="177.70" font-size="11.2" textLength="37.60" lengthAdjust="spacingAndGlyphs" >DDAacid</text>
<text x="511.30" y="245.80" font-size="11.2" textLength="31.40" lengthAdjust="spacingAndGlyphs" >AbAcid</text>
<text x="555.90" y="270.30" font-size="11.2" textLength="37.00" lengthAdjust="spacingAndGlyphs" >PimAcid</text>
<text x="689.70" y="171.00" font-size="11.2" textLength="48.30" lengthAdjust="spacingAndGlyphs" >IsopimAcid</text>
<text x="699.70" y="186.50" font-size="11.2" textLength="33.30" lengthAdjust="spacingAndGlyphs" >DAAcid</text>
<text x="702.20" y="190.20" font-size="11.2" textLength="42.40" lengthAdjust="spacingAndGlyphs" >7HDAAcid</text>
</g>
<text x="461.20" y="25.50" font-size="10.8" textLength="239.10" lengthAdjust="spacingAndGlyphs" >Projection of the variables on the factor-plane (  1 x   2)</text>
<text x="565.80" y="352.40" font-size="11.5" textLength="67.00" lengthAdjust="spacingAndGlyphs" >PC1; 67.21%</text>
<text transform="translate(422.4,201.1) rotate(-90)" font-size="12.2" textLength="66.5" lengthAdjust="spacingAndGlyphs">PC2; 17.03%</text>
<text transform="translate(716.60,61.70) scale(0.95,1)" font-size="15.3" text-anchor="middle" >b</text>
<circle cx="714.4" cy="44.0" r="0.55" fill="#8a8a8a"/>
<path d="M747.55,327.50L749.50,325.55L751.45,327.50L749.50,329.45Z" fill="#fff" stroke="#3838ff" stroke-width="1.1" stroke-linejoin="round"/>
<text x="761.70" y="331.70" font-size="11.1" textLength="25.90" lengthAdjust="spacingAndGlyphs" >Active</text>
</g>
</svg>
</body></html>
